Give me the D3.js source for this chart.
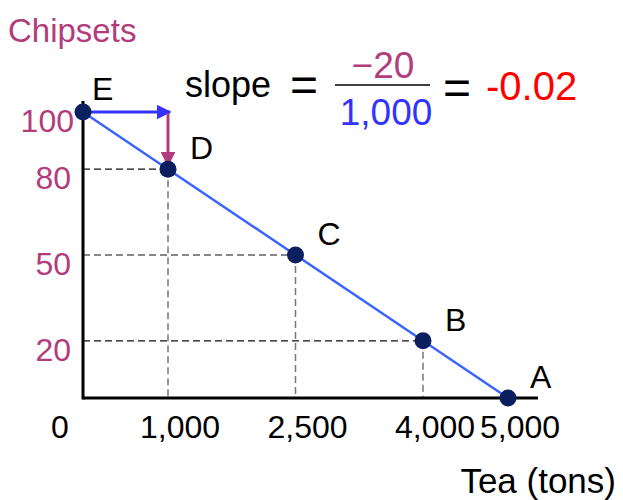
<!DOCTYPE html>
<html>
<head>
<meta charset="utf-8">
<script src="https://cdn.jsdelivr.net/npm/d3@7"></script>
<style>
  body { margin: 0; background: #fff; }
  svg { font-family: "Liberation Sans", Arial, sans-serif; }
</style>
</head>
<body>
<svg width="623" height="500"></svg>
<script>
// data
const pointNames = ["E", "D", "C", "B", "A"];
const teaTons = [0, 1000, 2500, 4000, 5000];
const chipsets = [100, 80, 50, 20, 0];
const xTicks = [0, 1000, 2500, 4000, 5000];
const yTicks = [20, 50, 80, 100];
const slopeRise = -20;
const slopeRun = 1000;

const purple = "#b23d7c";
const blue = "#3333ff";
const lineBlue = "#3a64ff";
const navy = "#0b1f5e";

const svg = d3.select("svg");
const points = teaTons.map((t, i) => ({ name: pointNames[i], x: t, y: chipsets[i] }));

const scX = d3.scaleLinear().domain([0, 5000]).range([83, 508]);
const scY = d3.scaleLinear().domain([0, 100]).range([398, 112]);

// arrow markers
const defs = svg.append("defs");
[["arrowBlue", blue], ["arrowPurple", purple]].forEach(([id, c]) => {
    defs.append("marker")
    .attr("id", id)
    .attr("viewBox", "0 0 10 10")
    .attr("refX", 9).attr("refY", 5)
    .attr("markerWidth", 5).attr("markerHeight", 5)
    .attr("markerUnits", "strokeWidth")
    .attr("orient", "auto")
    .append("path")
    .attr("d", "M0,0 L10,5 L0,10 z")
    .attr("fill", c);
});

// dashed guides (skip end points)
const inner = points.filter(d => d.x > 0 && d.y > 0);
svg.selectAll(".hguide")
.data(inner)
.enter()
.append("line")
.attr("x1", scX(0)).attr("x2", d => scX(d.x))
.attr("y1", d => scY(d.y)).attr("y2", d => scY(d.y))
.attr("stroke", "#111").attr("stroke-width", 1.2)
.attr("stroke-dasharray", "7,4");

svg.selectAll(".vguide")
.data(inner)
.enter()
.append("line")
.attr("x1", d => scX(d.x)).attr("x2", d => scX(d.x))
.attr("y1", d => scY(d.y)).attr("y2", scY(0))
.attr("stroke", "#777").attr("stroke-width", 1.5)
.attr("stroke-dasharray", "7,4");

// axes
svg.append("line")
.attr("x1", scX(0)).attr("x2", 538)
.attr("y1", scY(0)).attr("y2", scY(0))
.attr("stroke", "#000").attr("stroke-width", 3);
svg.append("line")
.attr("x1", scX(0)).attr("x2", scX(0))
.attr("y1", 101).attr("y2", scY(0) + 1.5)
.attr("stroke", "#000").attr("stroke-width", 3);

// the line
svg.append("path")
.datum(points)
.attr("d", d3.line().x(d => scX(d.x)).y(d => scY(d.y)))
.attr("fill", "none")
.attr("stroke", lineBlue)
.attr("stroke-width", 2.5);

// rise / run arrows between E and D
const pE = points[0], pD = points[1];
svg.append("line")
.attr("x1", scX(pE.x)).attr("y1", scY(pE.y))
.attr("x2", scX(pD.x) + 2).attr("y2", scY(pE.y))
.attr("stroke", blue).attr("stroke-width", 3)
.attr("marker-end", "url(#arrowBlue)");
svg.append("line")
.attr("x1", scX(pD.x)).attr("y1", scY(pE.y) + 1)
.attr("x2", scX(pD.x)).attr("y2", scY(pD.y) - 4)
.attr("stroke", purple).attr("stroke-width", 3)
.attr("marker-end", "url(#arrowPurple)");

// points
svg.selectAll(".dot")
.data(points)
.enter()
.append("circle")
.attr("cx", d => scX(d.x))
.attr("cy", d => scY(d.y))
.attr("r", 8.5)
.attr("fill", navy);

// point labels
svg.selectAll(".plabel")
.data(points)
.enter()
.append("text")
.attr("x", d => scX(d.x) + (d.x === 0 ? 9 : 22))
.attr("y", d => scY(d.y) - (d.x === 0 ? 12 : 10))
.attr("font-size", 32)
.attr("fill", "#000")
.text(d => d.name);

// tick labels
const fmt = d3.format(",");
svg.selectAll(".xtick")
.data(xTicks)
.enter()
.append("text")
.attr("x", d => d === 0 ? scX(d) - 23 : scX(d) + 12)
.attr("y", 438)
.attr("text-anchor", "middle")
.attr("font-size", 32)
.attr("fill", "#000")
.text(fmt);

svg.selectAll(".ytick")
.data(yTicks)
.enter()
.append("text")
.attr("x", d => d === 100 ? 74 : 71)
.attr("y", d => scY(d) + 20)
.attr("text-anchor", "end")
.attr("font-size", 32)
.attr("fill", purple)
.text(d => d);

// axis titles
svg.append("text")
.attr("x", 8).attr("y", 42)
.attr("font-size", 33)
.attr("fill", purple)
.text("Chipsets");
svg.append("text")
.attr("x", 616).attr("y", 493)
.attr("text-anchor", "end")
.attr("font-size", 35)
.attr("fill", "#000")
.text("Tea (tons)");

// slope formula
svg.append("text")
.attr("x", 185).attr("y", 97)
.attr("font-size", 36)
.attr("fill", "#000")
.text("slope");
svg.append("text")
.attr("x", 304).attr("y", 101)
.attr("text-anchor", "middle")
.attr("font-size", 48)
.attr("fill", "#000")
.text("=");
svg.append("text")
.attr("x", 383).attr("y", 78)
.attr("text-anchor", "middle")
.attr("font-size", 37)
.attr("fill", purple)
.text("\u2212" + Math.abs(slopeRise));
svg.append("line")
.attr("x1", 335).attr("x2", 430)
.attr("y1", 85).attr("y2", 85)
.attr("stroke", "#000").attr("stroke-width", 1.5);
svg.append("text")
.attr("x", 386).attr("y", 125)
.attr("text-anchor", "middle")
.attr("font-size", 37)
.attr("fill", blue)
.text(fmt(slopeRun));
svg.append("text")
.attr("x", 457).attr("y", 104)
.attr("text-anchor", "middle")
.attr("font-size", 48)
.attr("fill", "#000")
.text("=");
svg.append("text")
.attr("x", 486).attr("y", 100)
.attr("font-size", 40)
.attr("fill", "#ff0000")
.text(String(slopeRise / slopeRun));
</script>
</body>
</html>
